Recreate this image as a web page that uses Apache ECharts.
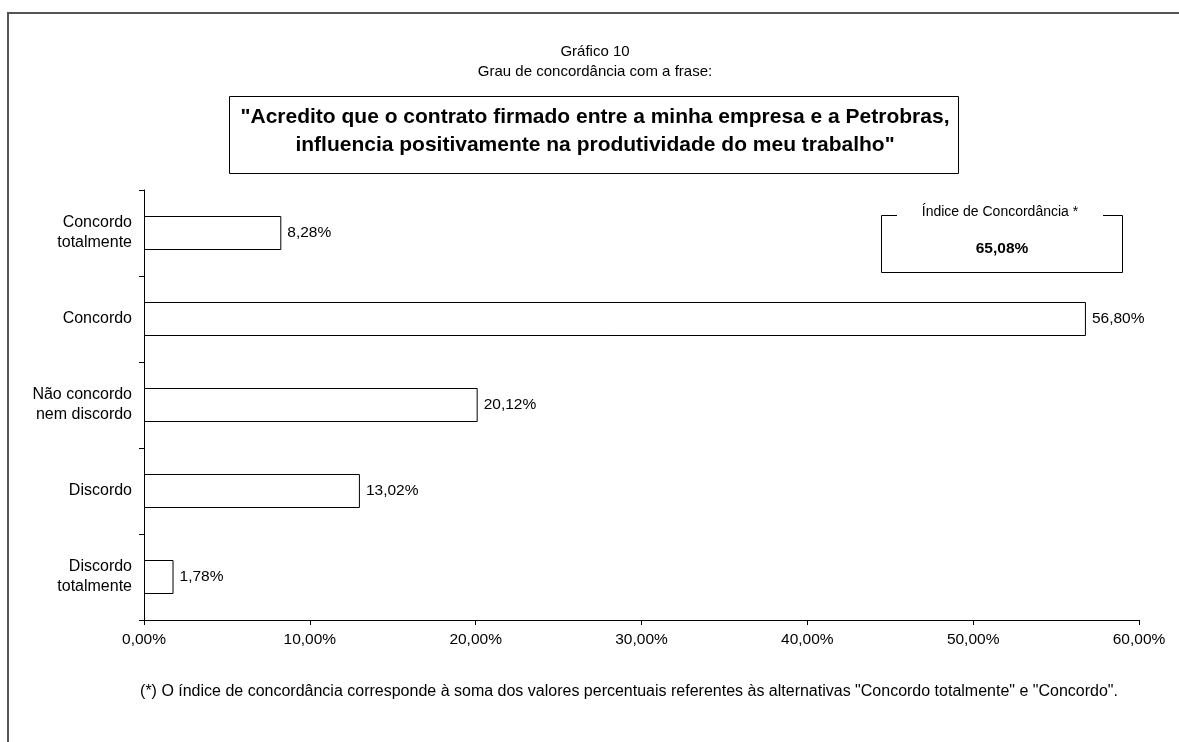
<!DOCTYPE html>
<html>
<head>
<meta charset="utf-8">
<script src="https://cdn.jsdelivr.net/npm/echarts@6/dist/echarts.min.js"></script>
<style>
html,body{margin:0;padding:0;background:#fff;}
#chart{width:1179px;height:742px;}
</style>
</head>
<body>
<div id="chart"></div>
<script>
const categories = ["Concordo\ntotalmente", "Concordo", "Não concordo\nnem discordo", "Discordo", "Discordo\ntotalmente"];
const values = [8.28, 56.80, 20.12, 13.02, 1.78];
const xTicks = [0, 10, 20, 30, 40, 50, 60];
const titleLine1 = "Gráfico 10";
const titleLine2 = "Grau de concordância com a frase:";
const quote = "\"Acredito que o contrato firmado entre a minha empresa e a Petrobras,\ninfluencia positivamente na produtividade do meu trabalho\"";
const indexLabel = "Índice de Concordância *";
const indexValue = "65,08%";
const footnote = "(*) O índice de concordância corresponde à soma dos valores percentuais referentes às alternativas \"Concordo totalmente\" e \"Concordo\".";

const FONT = "Liberation Sans, Arial, sans-serif";
const fmt = v => v.toFixed(2).replace('.', ',') + '%';

const chart = echarts.init(document.getElementById('chart'), null, {renderer: 'canvas'});
chart.setOption({
  animation: false,
  backgroundColor: '#fff',
  textStyle: {fontFamily: FONT, color: '#000'},
  grid: {left: 144, right: 40, top: 190, bottom: 122, containLabel: false},
  xAxis: {
    type: 'value', min: xTicks[0], max: xTicks[xTicks.length - 1], interval: 10,
    axisLine: {show: true, lineStyle: {color: '#000', width: 1}},
    axisTick: {show: true, length: 5, lineStyle: {color: '#000'}},
    splitLine: {show: false},
    axisLabel: {fontFamily: FONT, fontSize: 15.5, color: '#000', margin: 12, formatter: v => fmt(v)}
  },
  yAxis: {
    type: 'category', data: categories, inverse: true,
    axisLine: {show: true, lineStyle: {color: '#000', width: 1}},
    axisTick: {show: true, length: 5, lineStyle: {color: '#000'}},
    axisLabel: {fontFamily: FONT, fontSize: 16, color: '#000', margin: 12, lineHeight: 20, align: 'right'}
  },
  series: [{
    type: 'bar', data: values, barWidth: 34,
    itemStyle: {color: '#fff', borderColor: '#000', borderWidth: 1},
    label: {show: true, position: 'right', distance: 6, fontFamily: FONT, fontSize: 15.5, color: '#000', formatter: p => fmt(p.value)}
  }],
  graphic: [
    {type: 'polyline', shape: {points: [[8, 742], [8, 13], [1179, 13]]}, style: {stroke: '#555', lineWidth: 2, fill: null}},
    {type: 'text', x: 595, y: 44, style: {text: titleLine1, font: '15px ' + FONT, fill: '#000', align: 'center'}},
    {type: 'text', x: 595, y: 64, style: {text: titleLine2, font: '15px ' + FONT, fill: '#000', align: 'center'}},
    {type: 'rect', shape: {x: 229.5, y: 96.5, width: 729, height: 77}, style: {fill: '#fff', stroke: '#000', lineWidth: 1}},
    {type: 'text', x: 595, y: 103, style: {text: quote, font: 'bold 21px ' + FONT, fill: '#000', align: 'center', lineHeight: 28}},
    {type: 'polyline', shape: {points: [[897, 215.5], [881.5, 215.5], [881.5, 272.5], [1122.5, 272.5], [1122.5, 215.5], [1103, 215.5]]}, style: {stroke: '#000', lineWidth: 1, fill: null}},
    {type: 'text', x: 1000, y: 205, style: {text: indexLabel, font: '14px ' + FONT, fill: '#000', align: 'center'}},
    {type: 'text', x: 1002, y: 241, style: {text: indexValue, font: 'bold 15.5px ' + FONT, fill: '#000', align: 'center'}},
    {type: 'text', x: 629, y: 684, style: {text: footnote, font: '16px ' + FONT, fill: '#000', align: 'center'}}
  ]
});
</script>
</body>
</html>
